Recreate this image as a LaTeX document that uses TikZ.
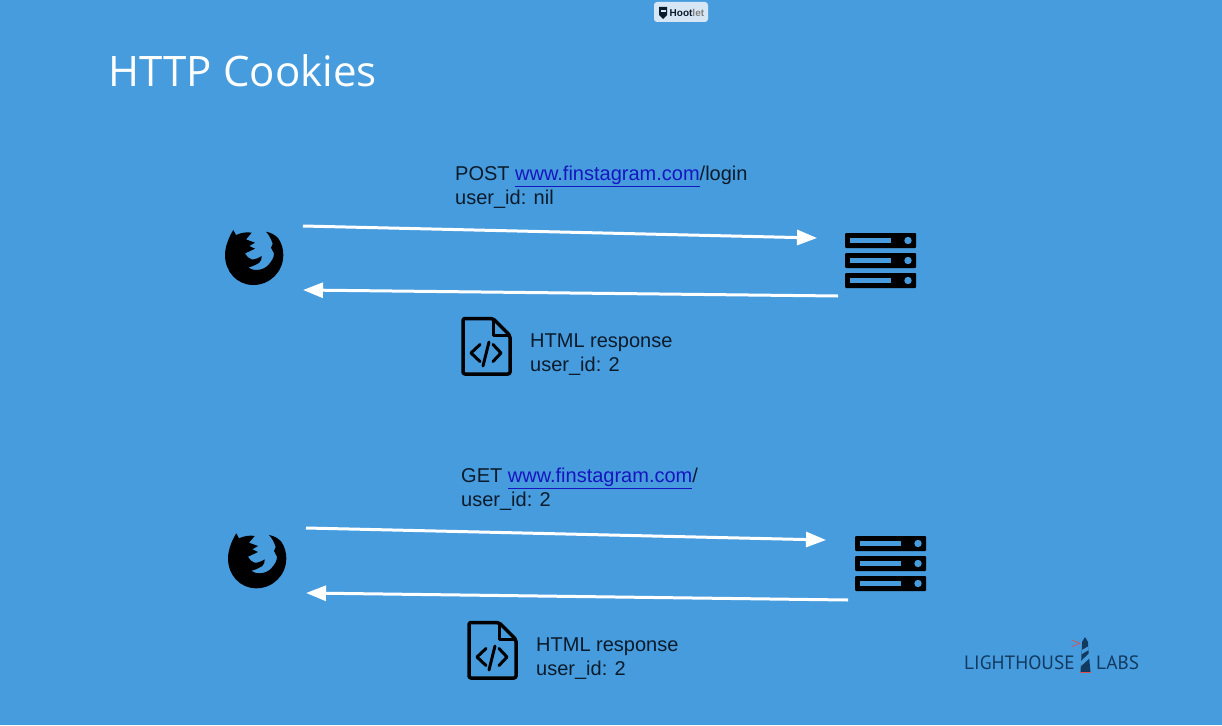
\documentclass[tikz,border=0pt]{standalone}
\usepackage{fontspec}
\setmainfont{Liberation Sans}
\newfontfamily\titlefont{Open Sans}
\newfontfamily\logofont{PT Sans}
\usetikzlibrary{arrows.meta}
\definecolor{slideblue}{HTML}{479CDE}
\definecolor{inkdark}{HTML}{0B1B2B}
\definecolor{linkblue}{HTML}{1616C0}
\definecolor{logonavy}{HTML}{123A60}
\definecolor{logored}{HTML}{D9534F}
\definecolor{hootbg}{HTML}{D6E6F4}
\tikzset{
    flow/.style={white, line width=3pt, -{Triangle[length=20pt,width=15pt]}},
    message/.style={anchor=north west, align=left, inner sep=0pt, text=inkdark, font=\fontsize{20}{24}\selectfont},
    pics/firefox/.style={code={
        \fill[black] (-20.7,-26.7) -- (-18,-21.7) .. controls (-13,-24) and (-7,-25) .. (-2.3,-24)
            -- (-8,-17.3) -- (1,-14) -- (-4.7,-10.7) -- (1,-8) -- (-9,-3.3)
            .. controls (-7,0) and (-5,2) .. (-2.3,2.7) .. controls (1,3) and (5,1) .. (7.7,-0.7)
            .. controls (8,2) and (7,4) .. (5.3,6) .. controls (2,8) and (-2,10) .. (-5.7,10.7)
            .. controls (-2,13) and (0,13.5) .. (2.7,13.3) .. controls (8,13) and (12,11) .. (14.3,8.3)
            .. controls (18,4) and (20,1) .. (20,-3.3) -- (17,-9) -- (18.7,-13)
            .. controls (17,-18) and (15,-22) .. (12,-25)
            .. controls (17,-24) and (21,-22) .. (24.3,-18.3)
            .. controls (28,-13) and (29.3,-7) .. (29.3,-1.7)
            .. controls (29.3,15) and (16,28.3) .. (-0.7,28.3)
            .. controls (-17,28.3) and (-29,15) .. (-29,-1.7)
            .. controls (-29,-10) and (-25,-20) .. (-20.7,-26.7) -- cycle;
    }},
    pics/serverstack/.style={code={
        \foreach \row in {0,20,40} {
            \fill[black, rounded corners=1pt] (0,\row) rectangle (71,\row+15);
            \fill[slideblue] (5,\row+4.75) rectangle (46,\row+10.25);
            \fill[slideblue] (63,\row+7.5) circle (3.7);
        }
    }},
    pics/htmldoc/.style={code={
        \draw[black, line width=3.5pt, line join=round, rounded corners=2pt]
            (33,1.5) -- (3,1.5) -- (3,57) -- (50,57) -- (50,18.5) -- cycle;
        \draw[black, line width=3pt, line join=round] (33,1.5) -- (33,18.5) -- (50,18.5);
        \draw[black, line width=3pt, line cap=round] (11,36) -- (20,27.5) (11,36) -- (20,44.5);
        \draw[black, line width=3pt, line cap=round] (41,36) -- (33,27.5) (41,36) -- (33,44.5);
        \draw[black, line width=3pt, line cap=round] (23,49) -- (29,25);
    }}
}
\begin{document}
\begin{tikzpicture}[x=1pt, y=-1pt]
    \fill[slideblue] (0,0) rectangle (1222,725);
    \useasboundingbox (0,0) rectangle (1222,725);

    % toolbar badge
    \node[fill=hootbg, rounded corners=3pt, minimum width=54pt, minimum height=20pt, inner sep=0pt] (badge) at (681,12) {};
    \node[anchor=west, inner sep=0pt, font=\fontsize{10}{10}\selectfont\bfseries] (badgetext) at (669.5,12.5)
        {\textcolor{inkdark}{Hoot}\textcolor{gray}{let}};
    \fill[inkdark] (659,7) -- (667,7) -- (667,15) -- (663,19) -- (659,15) -- cycle;
    \fill[hootbg] (660.5,10) rectangle (665.5,12);

    % title
    \node[anchor=west, inner sep=0pt, text=white, font=\fontsize{42}{50}\titlefont] (title) at (108.5,71) {HTTP Cookies};

    % login exchange
    \pic at (254,256.7) {firefox};
    \pic at (845,233) {serverstack};
    \pic at (460,317) {htmldoc};
    \coordinate (loginout) at (303,226);
    \coordinate (loginin) at (817,238);
    \coordinate (loginback) at (838,296);
    \coordinate (loginhome) at (303,290);
    \draw[flow] (loginout) -- (loginin);
    \draw[flow] (loginback) -- (loginhome);
    \node[message] (loginreq) at (455,166) {POST \textcolor{linkblue}{\underline{www.finstagram.com}}/login\\user\_id: nil};
    \node[message] (loginres) at (530,334) {HTML response\\user\_id: 2};

    % second request
    \pic at (257,560) {firefox};
    \pic at (855,536) {serverstack};
    \pic at (466,621) {htmldoc};
    \coordinate (nextout) at (306,528);
    \coordinate (nextin) at (826,540);
    \coordinate (nextback) at (848,600);
    \coordinate (nexthome) at (306,593);
    \draw[flow] (nextout) -- (nextin);
    \draw[flow] (nextback) -- (nexthome);
    \node[message] (nextreq) at (461,468) {GET \textcolor{linkblue}{\underline{www.finstagram.com}}/\\user\_id: 2};
    \node[message] (nextres) at (536,638) {HTML response\\user\_id: 2};

    % logo
    \node[anchor=base west, inner sep=0pt, text=logonavy, font=\fontsize{19.3}{20}\logofont] (logoleft) at (964,669) {LIGHTHOUSE};
    \node[anchor=base west, inner sep=0pt, text=logonavy, font=\fontsize{19.3}{20}\logofont] (logoright) at (1096,669) {LABS};
    \fill[logonavy] (1080.5,672) -- (1082,646) -- (1082,642) -- (1085,637) -- (1088,642) -- (1088,646) -- (1090.5,672) -- cycle;
    \fill[slideblue] (1081,661) -- (1089.5,653) -- (1089.8,658) -- (1081,666) -- cycle;
    \fill[slideblue] (1082,650) -- (1088,646.5) -- (1088.5,650) -- (1082,654) -- cycle;
    \draw[logored, line width=0.7pt] (1071.7,640) -- (1080,643.3) -- (1071.7,646.7);
    \draw[logored, line width=0.7pt] (1080,672.7) -- (1091,672.7);
\end{tikzpicture}
\end{document}
